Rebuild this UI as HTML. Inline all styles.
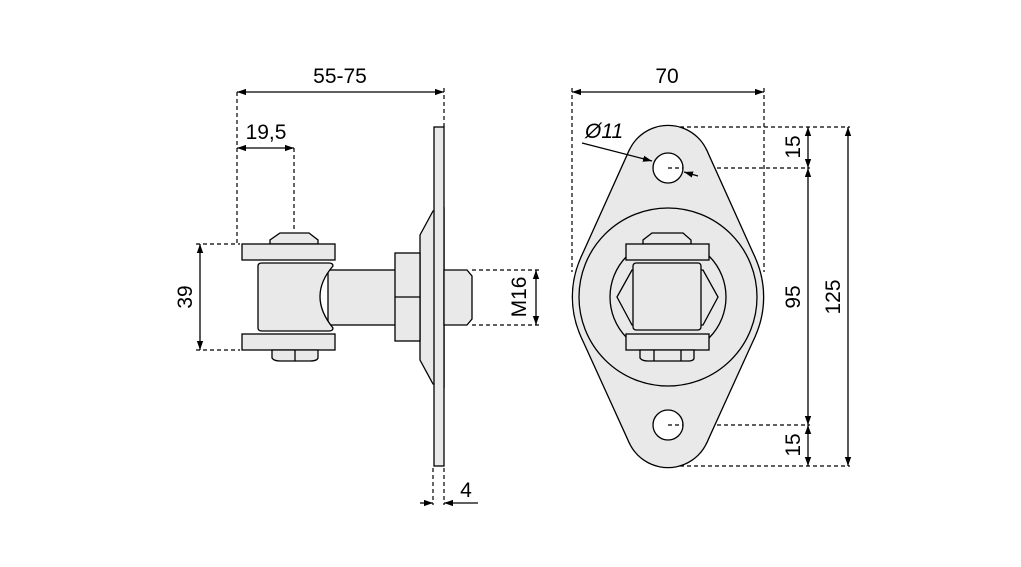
<!DOCTYPE html>
<html><head><meta charset="utf-8"><style>
html,body{margin:0;padding:0;background:#fff;}
svg{display:block;}
text{font-family:"Liberation Sans",sans-serif;font-size:21px;fill:#000;}
</style></head><body>
<svg width="1021" height="567" viewBox="0 0 1021 567" xmlns="http://www.w3.org/2000/svg">
<defs>
<marker id="a" viewBox="0 0 10 10" refX="10" refY="5" markerWidth="9" markerHeight="9" orient="auto-start-reverse" markerUnits="userSpaceOnUse"><path d="M0,1.5 L10,5 L0,8.5 Z" fill="#000"/></marker>
</defs>
<g stroke="#000" stroke-width="1.2" fill="none" stroke-dasharray="4,3">
<line x1="237" y1="92" x2="237" y2="244"/>
<line x1="444" y1="88" x2="444" y2="127"/>
<line x1="294" y1="148" x2="294" y2="232"/>
<line x1="196" y1="244" x2="240" y2="244"/>
<line x1="196" y1="350" x2="240" y2="350"/>
<line x1="472" y1="270" x2="540" y2="270"/>
<line x1="472" y1="325" x2="540" y2="325"/>
<line x1="433" y1="468" x2="433" y2="505"/>
<line x1="444" y1="468" x2="444" y2="505"/>
<line x1="572" y1="88" x2="572" y2="272"/>
<line x1="764" y1="88" x2="764" y2="272"/>
<line x1="680" y1="127" x2="850" y2="127"/>
<line x1="668" y1="168" x2="810" y2="168"/>
<line x1="668" y1="425" x2="810" y2="425"/>
<line x1="680" y1="466" x2="850" y2="466"/>
</g>
<g stroke="#000" stroke-width="1.3" fill="none">
<line x1="237" y1="92" x2="444" y2="92" marker-start="url(#a)" marker-end="url(#a)"/>
<line x1="237" y1="148" x2="294" y2="148" marker-start="url(#a)" marker-end="url(#a)"/>
<line x1="200" y1="244" x2="200" y2="350" marker-start="url(#a)" marker-end="url(#a)"/>
<line x1="536" y1="270" x2="536" y2="325" marker-start="url(#a)" marker-end="url(#a)"/>
<line x1="420" y1="503" x2="433" y2="503" marker-end="url(#a)"/>
<line x1="478" y1="503" x2="444" y2="503" marker-end="url(#a)"/>
<line x1="572" y1="92" x2="764" y2="92" marker-start="url(#a)" marker-end="url(#a)"/>
<line x1="808" y1="127" x2="808" y2="168" marker-start="url(#a)" marker-end="url(#a)"/>
<line x1="808" y1="168" x2="808" y2="425" marker-start="url(#a)" marker-end="url(#a)"/>
<line x1="808" y1="425" x2="808" y2="466" marker-start="url(#a)" marker-end="url(#a)"/>
<line x1="848" y1="127" x2="848" y2="466" marker-start="url(#a)" marker-end="url(#a)"/>
</g>
<g stroke="#000" stroke-width="1.3" fill="#e9e9e9">
<path d="M444,208 L433,211 L420,235 L420,360 L433,384 L444,387 Z"/>
<rect x="434" y="127" width="10" height="339"/>
<path d="M444,270 L467,270 L472,276 L472,319 L467,325 L444,325 Z"/>
<rect x="328" y="270" width="68" height="55"/>
<rect x="395" y="253" width="25" height="88"/>
<line x1="395" y1="297" x2="420" y2="297"/>
<path d="M258,266 Q258,263 262,263 L329,263 Q333,263 333,266 Q307,296 333,328 Q333,331 329,331 L262,331 Q258,331 258,328 Z"/>
<path d="M270,244 L270,240 L280,233 L309,233 L318,240 L318,244 Z"/>
<rect x="242" y="244" width="93" height="16"/>
<rect x="242" y="334" width="93" height="16"/>
<path d="M272,350 L272,358 Q274,361 280,361 L310,361 Q317,361 318,358 L318,350 Z"/>
<line x1="295" y1="350" x2="295" y2="361"/>
</g>
<g stroke="#000" stroke-width="2.6" fill="#e9e9e9">
<circle cx="668" cy="168" r="42"/>
<circle cx="668" cy="425" r="42"/>
<circle cx="668" cy="297" r="95"/>
<polygon points="629.7,150.7 706.3,150.7 754.6,257.9 754.6,336.1 706.3,442.3 629.7,442.3 581.4,336.1 581.4,257.9"/>
</g>
<g stroke="none" fill="#e9e9e9">
<circle cx="668" cy="168" r="42"/>
<circle cx="668" cy="425" r="42"/>
<circle cx="668" cy="297" r="95"/>
<polygon points="629.7,150.7 706.3,150.7 754.6,257.9 754.6,336.1 706.3,442.3 629.7,442.3 581.4,336.1 581.4,257.9"/>
</g>
<g stroke="#000" stroke-width="1.3" fill="#e9e9e9">
<circle cx="668" cy="297" r="89"/>
<circle cx="668" cy="297" r="58"/>
<circle cx="668" cy="168" r="15" fill="#fff"/>
<circle cx="668" cy="425" r="15" fill="#fff"/>
<polygon points="617,297 632,270 703,270 718,297 703,325 632,325"/>
<rect x="633" y="263" width="68" height="67" rx="3"/>
<path d="M643,244 L643,240 L652,233 L683,233 L691,240 L691,244 Z"/>
<rect x="626" y="244" width="83" height="16"/>
<rect x="626" y="334" width="83" height="16"/>
<path d="M640,350 L640,358 Q642,361 648,361 L688,361 Q694,361 694,358 L694,350 Z"/>
<line x1="654" y1="350" x2="654" y2="361"/><line x1="681" y1="350" x2="681" y2="361"/>
</g>
<g stroke="#000" stroke-width="1.2" stroke-dasharray="4,3">
<line x1="668" y1="168" x2="683" y2="168"/>
<line x1="668" y1="425" x2="683" y2="425"/>
</g>
<g stroke="#000" stroke-width="1.3">
<line x1="582" y1="143" x2="652" y2="161" marker-end="url(#a)"/>
<line x1="698" y1="176" x2="684" y2="172" marker-end="url(#a)"/>
</g>
<text x="340" y="83" text-anchor="middle">55-75</text>
<text x="266" y="139" text-anchor="middle">19,5</text>
<text x="466" y="497" text-anchor="middle">4</text>
<text x="667" y="83" text-anchor="middle">70</text>
<text x="585" y="138" font-style="italic">Ø11</text>
<text transform="translate(192,297) rotate(-90)" text-anchor="middle">39</text>
<text transform="translate(526,297) rotate(-90)" text-anchor="middle">M16</text>
<text transform="translate(800,147) rotate(-90)" text-anchor="middle">15</text>
<text transform="translate(800,297) rotate(-90)" text-anchor="middle">95</text>
<text transform="translate(800,445) rotate(-90)" text-anchor="middle">15</text>
<text transform="translate(840,297) rotate(-90)" text-anchor="middle">125</text>
</svg>
</body></html>
